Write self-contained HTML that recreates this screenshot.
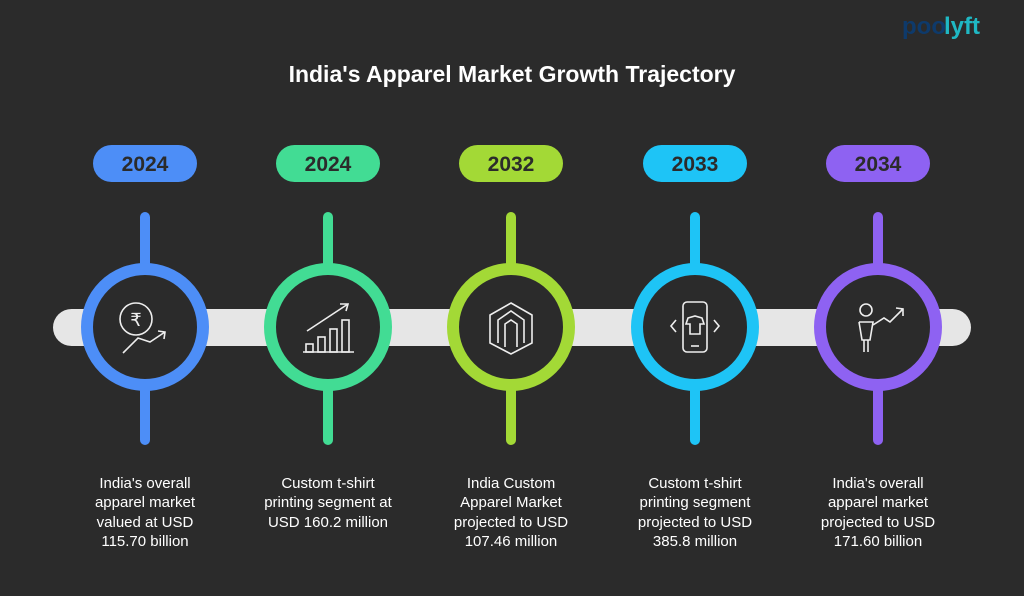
<!DOCTYPE html>
<html><head><meta charset="utf-8"><style>
body{margin:0;width:1024px;height:591px;background:#2b2b2b;overflow:hidden;font-family:"Liberation Sans",sans-serif;}
</style></head><body>
<svg width="1024" height="591" viewBox="0 0 1024 591" xmlns="http://www.w3.org/2000/svg">
<rect width="1024" height="591" fill="#2b2b2b"/>
<text x="512" y="82" text-anchor="middle" font-family="Liberation Sans" font-weight="bold" font-size="23" fill="#fff">India's Apparel Market Growth Trajectory</text>
<text x="902" y="34" font-family="Liberation Sans" font-weight="bold" font-size="24" fill="#0e3a6b">poo</text>
<text x="944" y="34" font-family="Liberation Sans" font-weight="bold" font-size="24" fill="#1fb8c4">lyft</text>
<rect x="53" y="309" width="918" height="37" rx="18.5" fill="#e6e6e6"/>
<g font-family="Liberation Sans" font-size="15" fill="#fff" text-anchor="middle">
<!-- nodes -->
<g>
<rect x="93" y="145" width="104" height="37" rx="18.5" fill="#4d8ef7"/>
<text x="145" y="171" font-weight="bold" font-size="21" fill="#2b2b2b">2024</text>
<line x1="145" y1="217" x2="145" y2="440" stroke="#4d8ef7" stroke-width="10" stroke-linecap="round"/>
<circle cx="145" cy="327" r="58" fill="#2b2b2b" stroke="#4d8ef7" stroke-width="12"/>
<text x="145" y="488">India's overall</text><text x="145" y="507">apparel market</text><text x="145" y="527">valued at USD</text><text x="145" y="546">115.70 billion</text>
</g>
<g>
<rect x="276" y="145" width="104" height="37" rx="18.5" fill="#42dc94"/>
<text x="328" y="171" font-weight="bold" font-size="21" fill="#2b2b2b">2024</text>
<line x1="328" y1="217" x2="328" y2="440" stroke="#42dc94" stroke-width="10" stroke-linecap="round"/>
<circle cx="328" cy="327" r="58" fill="#2b2b2b" stroke="#42dc94" stroke-width="12"/>
<text x="328" y="488">Custom t-shirt</text><text x="328" y="507">printing segment at</text><text x="328" y="527">USD 160.2 million</text>
</g>
<g>
<rect x="459" y="145" width="104" height="37" rx="18.5" fill="#a3d936"/>
<text x="511" y="171" font-weight="bold" font-size="21" fill="#2b2b2b">2032</text>
<line x1="511" y1="217" x2="511" y2="440" stroke="#a3d936" stroke-width="10" stroke-linecap="round"/>
<circle cx="511" cy="327" r="58" fill="#2b2b2b" stroke="#a3d936" stroke-width="12"/>
<text x="511" y="488">India Custom</text><text x="511" y="507">Apparel Market</text><text x="511" y="527">projected to USD</text><text x="511" y="546">107.46 million</text>
</g>
<g>
<rect x="643" y="145" width="104" height="37" rx="18.5" fill="#1ec4f6"/>
<text x="695" y="171" font-weight="bold" font-size="21" fill="#2b2b2b">2033</text>
<line x1="695" y1="217" x2="695" y2="440" stroke="#1ec4f6" stroke-width="10" stroke-linecap="round"/>
<circle cx="695" cy="327" r="58" fill="#2b2b2b" stroke="#1ec4f6" stroke-width="12"/>
<text x="695" y="488">Custom t-shirt</text><text x="695" y="507">printing segment</text><text x="695" y="527">projected to USD</text><text x="695" y="546">385.8 million</text>
</g>
<g>
<rect x="826" y="145" width="104" height="37" rx="18.5" fill="#8e62f2"/>
<text x="878" y="171" font-weight="bold" font-size="21" fill="#2b2b2b">2034</text>
<line x1="878" y1="217" x2="878" y2="440" stroke="#8e62f2" stroke-width="10" stroke-linecap="round"/>
<circle cx="878" cy="327" r="58" fill="#2b2b2b" stroke="#8e62f2" stroke-width="12"/>
<text x="878" y="488">India's overall</text><text x="878" y="507">apparel market</text><text x="878" y="527">projected to USD</text><text x="878" y="546">171.60 billion</text>
</g>
</g>
<g fill="none" stroke="#eee" stroke-width="1.6">
<circle cx="136" cy="319" r="16"/><text x="136" y="326" fill="#eee" stroke="none" font-size="18" text-anchor="middle" font-family="DejaVu Sans">₹</text>
<polyline points="123,353 138,338 150,342 165,332"/><polyline points="158,331 165,332 164,339"/>
<polyline points="303,352 354,352"/><rect x="306" y="344" width="7" height="8"/><rect x="318" y="337" width="7" height="15"/><rect x="330" y="329" width="7" height="23"/><rect x="342" y="320" width="7" height="32"/>
<polyline points="307,331 348,304"/><polyline points="340,304 348,304 346,311"/>
<polygon points="511,303 532,315 532,343 511,354 490,343 490,315"/><polyline points="498,343 498,320 511,311 524,320 524,343"/><polyline points="505,347 505,324 511,320 517,324 517,347"/>
<rect x="683" y="302" width="24" height="50" rx="4"/><line x1="691" y1="346" x2="699" y2="346"/><polyline points="676,320 671,326 676,332"/><polyline points="714,320 719,326 714,332"/><polygon points="688,318 695,316 702,318 704,324 700,324 700,334 690,334 690,324 686,324"/>
<circle cx="866" cy="310" r="6"/><polyline points="859,322 873,322 870,340 862,340 859,322"/><line x1="864" y1="340" x2="864" y2="352"/><line x1="868" y1="340" x2="868" y2="352"/><polyline points="873,325 884,318 890,322 903,309"/><polyline points="896,308 903,309 903,316"/>
</g>
</svg>
</body></html>
